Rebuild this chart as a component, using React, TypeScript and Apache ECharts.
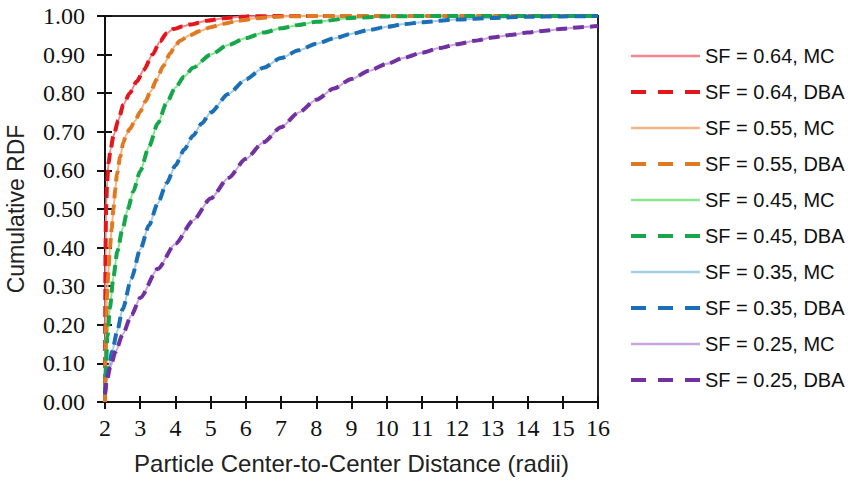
import React, { useEffect, useRef } from 'react';
import * as echarts from 'echarts';

// Cumulative RDF curves, [distance (radii), cumulative RDF]
const sf064: [number, number][] = [
  [2.0, 0.0], [2.005, 0.2], [2.015, 0.4], [2.03, 0.5], [2.06, 0.57], [2.1, 0.62], [2.16, 0.655],
  [2.24, 0.69], [2.38, 0.73], [2.52, 0.77], [2.7, 0.8], [2.9, 0.83], [3.1, 0.86], [3.35, 0.9],
  [3.56, 0.934], [3.75, 0.955], [3.94, 0.966], [4.2, 0.973], [4.42, 0.978], [4.9, 0.988],
  [5.37, 0.994], [6.0, 0.999], [7.0, 1.0], [16.0, 1.0],
];
const sf055: [number, number][] = [
  [2.0, 0.0], [2.01, 0.1], [2.03, 0.2], [2.06, 0.28], [2.09, 0.33], [2.14, 0.4], [2.19, 0.45],
  [2.24, 0.5], [2.29, 0.55], [2.34, 0.59], [2.43, 0.635], [2.52, 0.672], [2.6, 0.692], [2.7, 0.707],
  [2.85, 0.728], [3.0, 0.752], [3.14, 0.778], [3.3, 0.805], [3.47, 0.836], [3.65, 0.87],
  [3.85, 0.903], [4.0, 0.924], [4.13, 0.936], [4.4, 0.95], [4.7, 0.961], [5.0, 0.971],
  [5.37, 0.98], [5.8, 0.988], [6.32, 0.994], [7.0, 0.999], [8.0, 1.0], [16.0, 1.0],
];
const sf045: [number, number][] = [
  [2.0, 0.02], [2.03, 0.1], [2.07, 0.17], [2.14, 0.245], [2.24, 0.325], [2.35, 0.39], [2.5, 0.45],
  [2.65, 0.5], [2.8, 0.545], [3.0, 0.598], [3.25, 0.662], [3.5, 0.722], [3.75, 0.775], [4.0, 0.815],
  [4.25, 0.843], [4.5, 0.866], [5.0, 0.9], [5.5, 0.925], [6.0, 0.943], [6.5, 0.957], [7.0, 0.968],
  [7.5, 0.977], [8.0, 0.985], [9.0, 0.995], [10.0, 0.999], [11.0, 1.0], [16.0, 1.0],
];
const sf035: [number, number][] = [
  [2.0, 0.02], [2.05, 0.06], [2.1, 0.085], [2.2, 0.13], [2.35, 0.185], [2.5, 0.24], [2.75, 0.32],
  [3.0, 0.395], [3.25, 0.458], [3.5, 0.515], [3.75, 0.567], [4.0, 0.613], [4.25, 0.654], [4.5, 0.69],
  [4.75, 0.722], [5.0, 0.75], [5.5, 0.798], [6.0, 0.836], [6.5, 0.866], [7.0, 0.891], [7.5, 0.911],
  [8.0, 0.928], [8.5, 0.942], [9.0, 0.954], [9.5, 0.964], [10.0, 0.972], [10.5, 0.979], [11.0, 0.984],
  [12.0, 0.991], [13.0, 0.995], [14.0, 0.998], [15.0, 0.999], [16.0, 1.0],
];
const sf025: [number, number][] = [
  [2.0, 0.02], [2.05, 0.055], [2.15, 0.09], [2.3, 0.13], [2.5, 0.175], [2.75, 0.225], [3.0, 0.27],
  [3.5, 0.345], [4.0, 0.41], [4.5, 0.47], [5.0, 0.527], [5.5, 0.58], [6.0, 0.63], [6.5, 0.673],
  [7.0, 0.712], [7.5, 0.75], [8.0, 0.783], [8.5, 0.812], [9.0, 0.837], [9.5, 0.858], [10.0, 0.876],
  [10.5, 0.892], [11.0, 0.905], [11.5, 0.917], [12.0, 0.927], [12.5, 0.936], [13.0, 0.944],
  [13.5, 0.951], [14.0, 0.957], [14.5, 0.962], [15.0, 0.967], [15.5, 0.971], [16.0, 0.974],
];

const sfLabels = ['0.64', '0.55', '0.45', '0.35', '0.25'];
const sfData = [sf064, sf055, sf045, sf035, sf025];
const mcColors = ['#f2868a', '#f6b383', '#88e490', '#a3cde0', '#c6a6df'];
const dbaColors = ['#e3161c', '#df7a22', '#17a64b', '#1b6fb7', '#7131a0'];

const xTitle = 'Particle Center-to-Center Distance (radii)';
const yTitle = 'Cumulative RDF';

export default function App() {
  const ref = useRef<HTMLDivElement>(null);
  useEffect(() => {
    if (!ref.current) return;
    const chart = echarts.init(ref.current, undefined, { renderer: 'svg' });
    const series: any[] = [];
    const legendData: any[] = [];
    sfData.forEach((d, i) => {
      const mcName = `SF = ${sfLabels[i]}, MC`;
      const dbaName = `SF = ${sfLabels[i]}, DBA`;
      series.push({
        name: mcName, type: 'line', data: d, symbol: 'none', smooth: 0.25, smoothMonotone: 'x',
        lineStyle: { color: mcColors[i], width: 2 }, itemStyle: { color: mcColors[i] },
        xAxisIndex: 0, yAxisIndex: 0, z: 2,
      });
      series.push({
        name: dbaName, type: 'line', data: d, symbol: 'none', smooth: 0.25, smoothMonotone: 'x',
        lineStyle: { color: dbaColors[i], width: 4, type: [11, 6] }, itemStyle: { color: dbaColors[i] },
        xAxisIndex: 0, yAxisIndex: 0, z: 3,
      });
      legendData.push({ name: mcName, lineStyle: { width: 2.5, type: 'solid' } });
      legendData.push({ name: dbaName, lineStyle: { width: 4, type: [15, 12] } });
    });

    const serif = "'Liberation Serif', 'Times New Roman', serif";
    const sans = "'Liberation Sans', Arial, sans-serif";

    chart.setOption({
      animation: false,
      backgroundColor: '#ffffff',
      grid: {
        left: 105, right: 254, top: 16, bottom: 79, show: true, borderColor: '#222', borderWidth: 2,
        outerBoundsMode: 'none', containLabel: false,
      },
      legend: {
        orient: 'vertical', left: 624, top: 41, itemWidth: 69, itemHeight: 14, itemGap: 16,
        data: legendData, itemStyle: { opacity: 0 },
        textStyle: { fontFamily: sans, fontSize: 20, color: '#111', lineHeight: 20 },
      },
      xAxis: [
        {
          type: 'value', min: 2, max: 16, interval: 1,
          name: xTitle, nameLocation: 'middle', nameGap: 49,
          nameTextStyle: { fontFamily: sans, fontSize: 24, color: '#222' },
          axisLine: { show: true, lineStyle: { color: '#111', width: 2 } },
          axisTick: { show: true, length: 7, lineStyle: { color: '#111', width: 2 } },
          axisLabel: { fontFamily: serif, fontSize: 24, color: '#111', margin: 14 },
          splitLine: { show: false },
        },
        {
          type: 'value', min: 2, max: 16, interval: 1, position: 'bottom',
          axisLine: { show: false },
          axisTick: { show: true, inside: true, length: 6, lineStyle: { color: '#111', width: 2 } },
          axisLabel: { show: false }, splitLine: { show: false },
        },
      ],
      yAxis: [
        {
          type: 'value', min: 0, max: 1, interval: 0.1,
          name: yTitle, nameLocation: 'middle', nameGap: 78,
          nameTextStyle: { fontFamily: sans, fontSize: 23, color: '#222' },
          axisLine: { show: true, lineStyle: { color: '#111', width: 2 } },
          axisTick: { show: true, length: 8, lineStyle: { color: '#111', width: 2 } },
          axisLabel: { fontFamily: serif, fontSize: 24, color: '#111', margin: 20, formatter: (v: number) => v.toFixed(2) },
          splitLine: { show: false },
        },
        {
          type: 'value', min: 0, max: 1, interval: 0.1, position: 'left',
          axisLine: { show: false },
          axisTick: { show: true, inside: true, length: 7, lineStyle: { color: '#111', width: 2 } },
          axisLabel: { show: false }, splitLine: { show: false },
        },
      ],
      series,
    });
    return () => chart.dispose();
  }, []);
  return <div ref={ref} style={{ position: 'absolute', left: 0, top: 0, width: 852, height: 481 }} />;
}
